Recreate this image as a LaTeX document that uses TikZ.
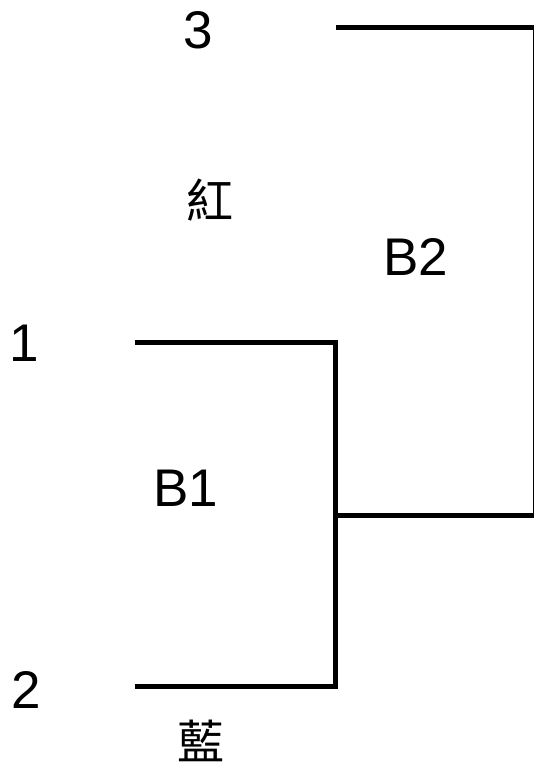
\documentclass[tikz,border=0pt]{standalone}
\usepackage{fontspec}
\setmainfont{Liberation Sans}
\newfontfamily\cjk{Noto Sans CJK TC}
\begin{document}
\begin{tikzpicture}[x=1pt,y=-1pt,
  lbl/.style={font=\fontsize{53}{60}\selectfont, inner sep=0pt},
  cj/.style={font=\cjk\fontsize{47}{54}\selectfont, inner sep=0pt},
  br/.style={line width=5pt, line join=miter}]
\useasboundingbox (0,0) rectangle (534,769);
\fill[white] (0,0) rectangle (534,769);
\begin{scope}
\clip (0,0) rectangle (534,769);
\coordinate (t1) at (336,27);
\coordinate (t2) at (535,27);
\coordinate (m2) at (535,515);
\coordinate (m1) at (335,515);
\coordinate (a1) at (135,342);
\coordinate (a2) at (335,342);
\coordinate (b2) at (335,686);
\coordinate (b1) at (135,686);
\draw[br] (t1) -- (t2) -- (m2) -- (m1);
\draw[br] (a1) -- (a2) -- (b2) -- (b1);
\end{scope}
\node[lbl] (n3) at (198,30) {3};
\node[lbl] (n1) at (24,343) {1};
\node[lbl] (n2) at (26,690) {2};
\node[lbl] (nb2) at (416,257) {B2};
\node[lbl] (nb1) at (186,488) {B1};
\node[cj] (red) at (210,200) {紅};
\node[cj] (blue) at (201,741) {藍};
\end{tikzpicture}
\end{document}
